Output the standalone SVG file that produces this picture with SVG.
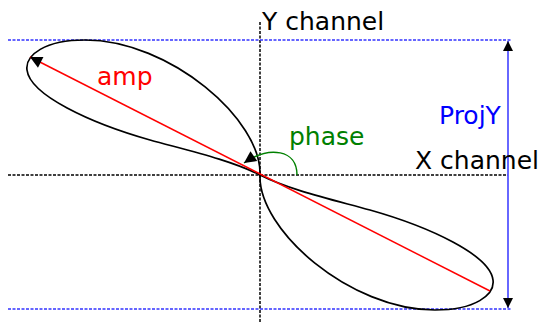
<svg xmlns="http://www.w3.org/2000/svg" width="539" height="323" viewBox="0 0 539 323">
<style>
text{font-family:"DejaVu Sans",sans-serif;font-size:25px}
.axis{stroke:#000;stroke-width:1.5;stroke-dasharray:3,1.5;fill:none}
.proj{stroke:#3333ff;stroke-width:1.5;stroke-dasharray:3,1.5;fill:none}
</style>
<defs>
<marker id="ah" viewBox="0 0 10 10" refX="10" refY="5" markerWidth="11" markerHeight="10" markerUnits="userSpaceOnUse" orient="auto-start-reverse">
<path d="M0,0 L10,5 L0,10 Z" fill="#000"/>
</marker>
<marker id="ahL" viewBox="0 0 10 10" refX="10" refY="5" markerWidth="14" markerHeight="12" markerUnits="userSpaceOnUse" orient="auto-start-reverse">
<path d="M0,0 L10,5 L0,10 Z" fill="#000"/>
</marker>
</defs>
<g id="axes">
<line class="axis" x1="8" y1="175" x2="508" y2="175"/>
<line class="axis" x1="260" y1="22" x2="260" y2="323"/>
<line class="proj" x1="8" y1="40" x2="512" y2="40"/>
<line class="proj" x1="8" y1="309" x2="512" y2="309"/>
</g>
<g id="curve">
<path d="M260,175 C262,120 170,40 85,40 C45,40 25,55 27,70 C30,95 90,123 150,140 C190,151 230,160 260,175 Z" fill="none" stroke="#000" stroke-width="1.7"/>
<path d="M260,175 C258,230 350,310 435,310 C475,310 495,295 493,280 C490,255 430,227 370,210 C330,199 290,190 260,175 Z" fill="none" stroke="#000" stroke-width="1.7"/>
</g>
<g id="connectors">
<line x1="490" y1="291" x2="30" y2="57" stroke="#ff0000" stroke-width="1.5" marker-end="url(#ahL)"/>
<path d="M297,175 C297,150 270,145 244,163" fill="none" stroke="#008000" stroke-width="1.5" marker-end="url(#ahL)"/>
<line x1="508" y1="41" x2="508" y2="308" stroke="#4d4dff" stroke-width="1.7" marker-start="url(#ah)" marker-end="url(#ah)"/>
</g>
<g id="labels">
<text x="262" y="30" fill="#000">Y channel</text>
<text x="415" y="169" fill="#000">X channel</text>
<text x="439" y="124" fill="#0000ff">ProjY</text>
<text x="97" y="85" fill="#ff0000">amp</text>
<text x="289" y="145" fill="#008000">phase</text>
</g>
</svg>
